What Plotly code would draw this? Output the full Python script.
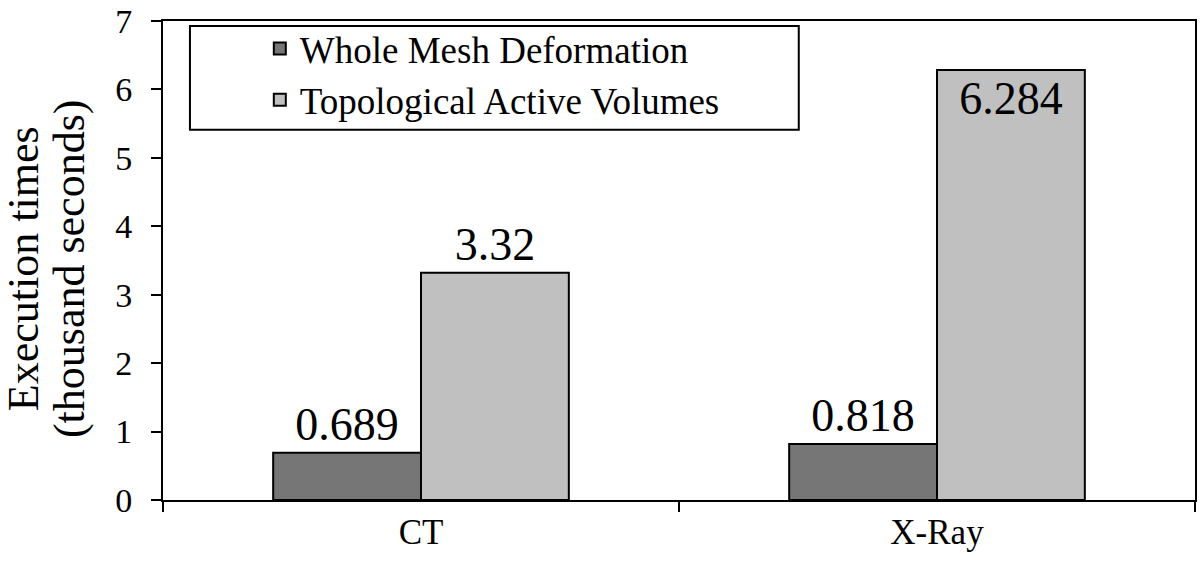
import plotly.graph_objects as go

categories = ["CT", "X-Ray"]
series_names = ["Whole Mesh Deformation", "Topological Active Volumes"]
whole_mesh = [0.689, 0.818]
tav = [3.32, 6.284]
y_ticks = [0, 1, 2, 3, 4, 5, 6, 7]
y_title_lines = ["Execution times", "(thousand seconds)"]

FONT = "Liberation Serif"
W, H = 1200, 564
ML, MR, MT, MB = 163, 3, 15, 64
PW, PH = W - ML - MR, H - MT - MB


def px_x(p):
    return (p - ML) / PW


def px_y(p):
    return (H - MB - p) / PH


fig = go.Figure()
fig.add_trace(go.Bar(
    x=categories, y=whole_mesh, name=series_names[0],
    marker=dict(color="#767676", line=dict(color="black", width=2)),
    text=[str(v) for v in whole_mesh], textposition="outside",
    textfont=dict(family=FONT, size=46, color="black"),
    cliponaxis=False,
))
fig.add_trace(go.Bar(
    x=categories, y=tav, name=series_names[1],
    marker=dict(color="#c0c0c0", line=dict(color="black", width=2)),
    text=[str(v) for v in tav], textposition=["outside", "inside"],
    insidetextanchor="end",
    textfont=dict(family=FONT, size=46, color="black"),
    cliponaxis=False,
))

fig.update_layout(
    width=W, height=H,
    margin=dict(l=ML, r=MR, t=MT, b=MB),
    paper_bgcolor="white", plot_bgcolor="white",
    barmode="group", bargap=0.427, bargroupgap=0,
    uniformtext=dict(minsize=46, mode="show"),
    font=dict(family=FONT, color="black"),
    showlegend=True,
    legend=dict(
        x=px_x(260), y=px_y(12), xanchor="left", yanchor="top",
        bgcolor="rgba(0,0,0,0)", borderwidth=0,
        font=dict(family=FONT, size=37, color="black"),
        traceorder="normal", tracegroupgap=0,
    ),
    xaxis=dict(
        showline=True, linecolor="black", linewidth=2, mirror=True,
        ticks="outside", ticklen=10, tickwidth=2, tickcolor="black",
        tickson="boundaries", showgrid=False,
        tickfont=dict(family=FONT, size=35, color="black"),
    ),
    yaxis=dict(
        range=[0, 7], tickvals=y_ticks,
        showline=True, linecolor="black", linewidth=2, mirror=True,
        ticks="outside", ticklen=10, tickwidth=2, tickcolor="black",
        showgrid=False, zeroline=False, ticklabelstandoff=12,
        ticklabeloverflow="allow",
        tickfont=dict(family=FONT, size=34, color="black"),
    ),
    shapes=[dict(
        type="rect", xref="paper", yref="paper",
        x0=px_x(190), x1=px_x(800), y0=px_y(125), y1=px_y(20),
        line=dict(color="black", width=2), fillcolor="white", layer="below",
    )],
    annotations=[
        dict(text=y_title_lines[0], xref="paper", yref="paper",
             x=px_x(24), y=px_y(266), xanchor="center", yanchor="middle",
             textangle=-90, showarrow=False,
             font=dict(family=FONT, size=44, color="black")),
        dict(text=y_title_lines[1], xref="paper", yref="paper",
             x=px_x(70), y=px_y(266), xanchor="center", yanchor="middle",
             textangle=-90, showarrow=False,
             font=dict(family=FONT, size=44, color="black")),
    ],
)

fig.write_html(
    "out.html",
    config={"displayModeBar": False},
    post_script="document.body.style.margin='0';document.body.style.overflow='hidden';",
)
